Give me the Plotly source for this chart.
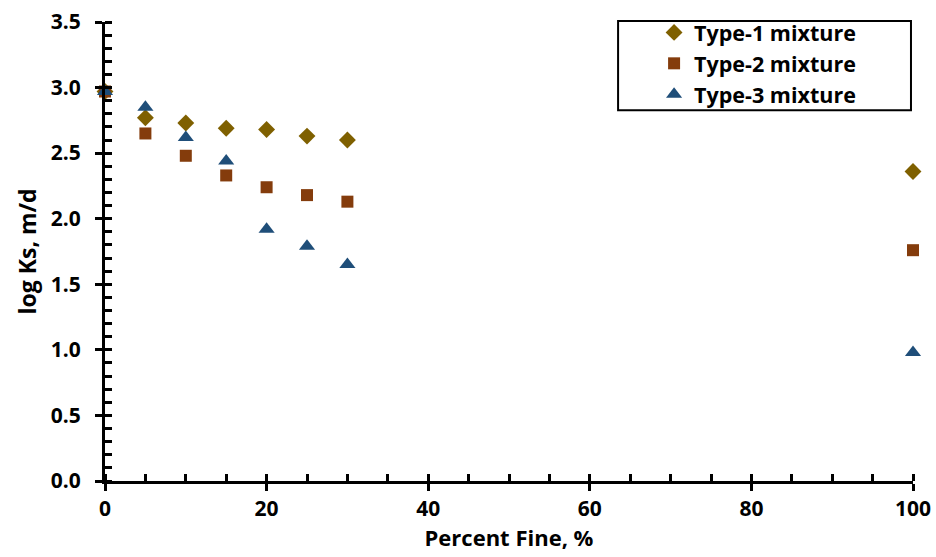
import plotly.graph_objects as go

percent_fine = [0, 5, 10, 15, 20, 25, 30, 100]
type1 = [2.97, 2.77, 2.73, 2.69, 2.68, 2.63, 2.60, 2.36]
type2 = [2.97, 2.65, 2.48, 2.33, 2.24, 2.18, 2.13, 1.76]
type3 = [2.97, 2.85, 2.62, 2.44, 1.92, 1.79, 1.65, 0.98]

series = [
    ("Type-1 mixture", type1, "diamond", "#7F6000", 13),
    ("Type-2 mixture", type2, "square", "#843C0C", 12),
    ("Type-3 mixture", type3, "triangle-up", "#1F4E79", 14),
]

FONT = "Open Sans"
fig = go.Figure()
for name, vals, sym, col, sz in series:
    fig.add_trace(go.Scatter(
        x=percent_fine, y=vals, mode="markers", name=name, cliponaxis=False,
        marker=dict(symbol=sym, color=col, size=sz, line=dict(width=0)),
    ))

# invisible trace on secondary axes to show inside ticks (crossing effect)
fig.add_trace(go.Scatter(x=[0], y=[0], xaxis="x2", yaxis="y2", mode="markers",
                         marker=dict(opacity=0), showlegend=False, hoverinfo="skip"))

axis_common = dict(showgrid=False, zeroline=False, linecolor="black", linewidth=3,
                   tickcolor="black", tickwidth=3, automargin=False)

fig.update_layout(
    width=936, height=557,
    margin=dict(l=105, r=23, t=16, b=76),
    plot_bgcolor="white", paper_bgcolor="white",
    font=dict(family=FONT, size=20, color="black"),
    xaxis=dict(range=[0, 100], tickvals=[0, 20, 40, 60, 80, 100], ticks="outside", ticklen=7,
               showline=True, title=dict(text="<b>Percent Fine, %</b>", standoff=2,
                                         font=dict(size=22)),
               tickfont=dict(size=21, family=FONT, weight="bold"),
               minor=dict(ticks="inside", dtick=5, tick0=0, ticklen=7, tickwidth=3, tickcolor="black"),
               **axis_common),
    yaxis=dict(range=[0, 3.5], tickvals=[0, 0.5, 1, 1.5, 2, 2.5, 3, 3.5], tickformat=".1f",
               ticks="outside", ticklen=7, showline=True, ticklabelstandoff=10,
               title=dict(text="<b>log Ks, m/d</b>", standoff=8, font=dict(size=23)),
               tickfont=dict(size=21, family=FONT, weight="bold"),
               minor=dict(ticks="inside", dtick=0.1, tick0=0, ticklen=7, tickwidth=3, tickcolor="black"),
               **axis_common),
    xaxis2=dict(range=[0, 100], overlaying="x", anchor="y", tickvals=[0, 20, 40, 60, 80, 100],
                ticks="inside", ticklen=7, showticklabels=False, showgrid=False, zeroline=False,
                tickcolor="black", tickwidth=3, showline=False, automargin=False),
    yaxis2=dict(range=[0, 3.5], overlaying="y", anchor="x", tickvals=[0, 0.5, 1, 1.5, 2, 2.5, 3, 3.5],
                ticks="inside", ticklen=7, showticklabels=False, showgrid=False, zeroline=False,
                tickcolor="black", tickwidth=3, showline=False, automargin=False),
    legend=dict(x=0.635, xanchor="left", y=1.022, yanchor="top",
                borderwidth=0, bgcolor="rgba(0,0,0,0)", indentation=36,
                font=dict(size=21.5, family=FONT, weight="bold"),
                itemsizing="trace", tracegroupgap=0, itemwidth=30),
    shapes=[dict(type="rect", xref="paper", yref="paper", x0=0.635, x1=0.9975, y0=0.808, y1=1.002,
                 line=dict(color="black", width=2), fillcolor="rgba(0,0,0,0)", layer="below")],
    showlegend=True,
)
fig.write_html("out.html")
